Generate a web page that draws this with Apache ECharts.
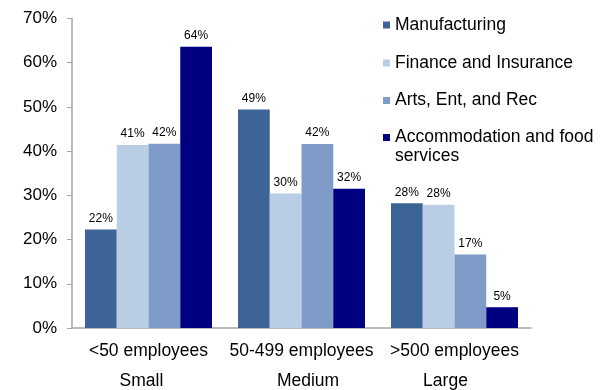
<!DOCTYPE html>
<html>
<head>
<meta charset="utf-8">
<script src="https://cdn.jsdelivr.net/npm/echarts@6/dist/echarts.min.js"></script>
<style>
  html, body { margin: 0; padding: 0; background: #fff; }
  #chart { width: 604px; height: 390px; }
</style>
</head>
<body>
<div id="chart"></div>
<script>
// Share of businesses by size class, per industry (percent)
const sizeLabels = ['<50 employees', '50-499 employees', '>500 employees'];
const sizeNames = ['Small', 'Medium', 'Large'];
const seriesNames = ['Manufacturing', 'Finance and Insurance', 'Arts, Ent, and Rec', 'Accommodation and food services'];
const manufacturing = [22.3, 49.4, 28.2];
const finance = [41.4, 30.4, 27.9];
const arts = [41.7, 41.6, 16.6];
const accommodation = [63.6, 31.5, 4.7];
const yTicks = [0, 10, 20, 30, 40, 50, 60, 70];

const colors = ['#3C6496', '#B9CDE5', '#7F9CC8', '#000080'];
const values = [manufacturing, finance, arts, accommodation];
const FONT = '"Liberation Sans", Arial, sans-serif';
const BIG = 17.5;

const chart = echarts.init(document.getElementById('chart'));

// The long last entry wraps; an empty leading line keeps its swatch level with the first text line
const legendTops = [16, 54, 91.5, 109.5];
const legends = seriesNames.map((name, i) => ({
  data: [name],
  left: 383,
  top: legendTops[i],
  padding: 0,
  itemWidth: 7,
  itemHeight: 7,
  icon: 'rect',
  selectedMode: false,
  formatter: n => n === 'Accommodation and food services'
    ? '{p| }\n{a|Accommodation and food}\n{a|services}'
    : n,
  textStyle: {
    fontFamily: FONT, fontSize: BIG, color: '#000',
    rich: {
      p: { fontFamily: FONT, fontSize: BIG, lineHeight: 19 },
      a: { fontFamily: FONT, fontSize: BIG, color: '#000', lineHeight: 19 }
    }
  }
}));

chart.setOption({
  animation: false,
  backgroundColor: '#fff',
  grid: { left: 72, right: 73, top: 18.5, bottom: 61 },
  legend: legends,
  xAxis: {
    type: 'category',
    data: sizeLabels,
    axisLine: { lineStyle: { color: '#A6A6A6', width: 1.5 } },
    axisTick: { show: false },
    axisLabel: {
      margin: 8,
      interval: 0,
      formatter: (v, idx) => '{a|' + v + '}\n{s' + idx + '|' + sizeNames[idx] + '}',
      rich: {
        a: { fontFamily: FONT, fontSize: BIG, color: '#000', lineHeight: 30 },
        s0: { fontFamily: FONT, fontSize: BIG, color: '#000', lineHeight: 30, padding: [0, 14, 0, 0] },
        s1: { fontFamily: FONT, fontSize: BIG, color: '#000', lineHeight: 30, padding: [0, 0, 0, 13] },
        s2: { fontFamily: FONT, fontSize: BIG, color: '#000', lineHeight: 30, padding: [0, 18, 0, 0] }
      }
    }
  },
  yAxis: {
    type: 'value',
    min: yTicks[0],
    max: yTicks[yTicks.length - 1],
    interval: 10,
    axisLine: { show: true, lineStyle: { color: '#A6A6A6', width: 1.5 } },
    axisTick: { show: true, length: 5, lineStyle: { color: '#A6A6A6' } },
    splitLine: { show: false },
    axisLabel: {
      margin: 15,
      formatter: '{value}%',
      fontFamily: FONT,
      fontSize: 17,
      color: '#000'
    }
  },
  series: seriesNames.map((name, i) => ({
    name: name,
    type: 'bar',
    data: values[i],
    barGap: 0,
    barCategoryGap: '17%',
    itemStyle: { color: colors[i] },
    label: {
      show: true,
      position: 'top',
      distance: 5,
      formatter: p => Math.round(p.value) + '%',
      fontFamily: FONT,
      fontSize: 12,
      color: '#000'
    }
  }))
});
</script>
</body>
</html>
